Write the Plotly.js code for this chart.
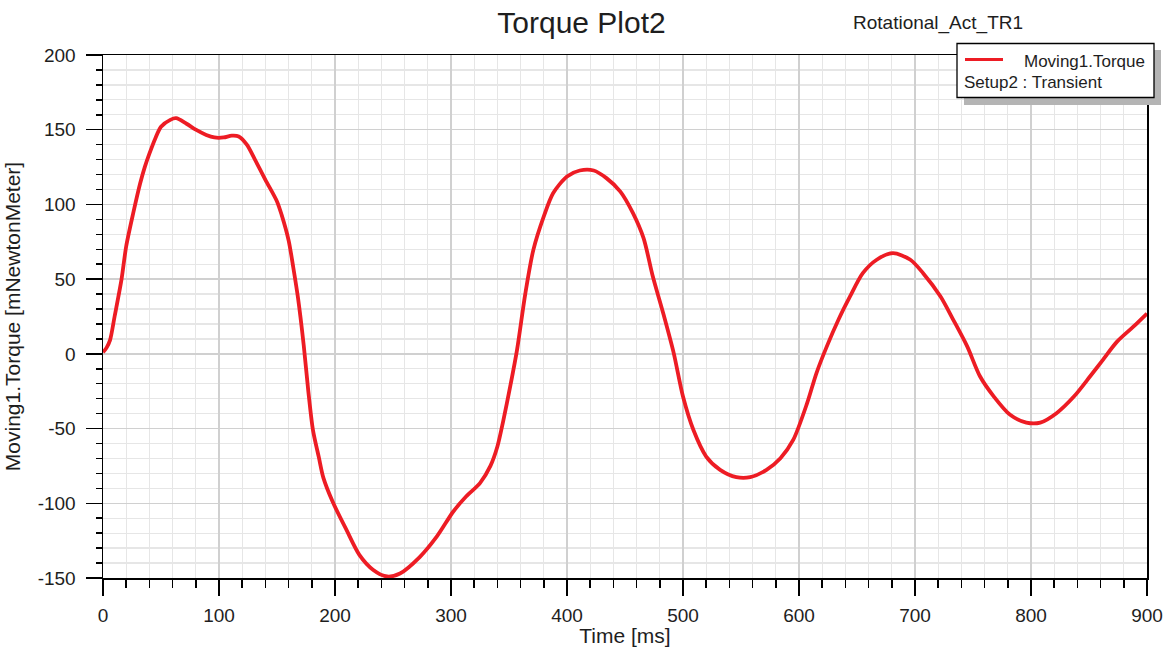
<!DOCTYPE html>
<html>
<head>
<meta charset="utf-8">
<script src="https://cdn.plot.ly/plotly-3.0.1.min.js"></script>
<style>
  html, body { margin: 0; padding: 0; background: #ffffff; }
  #chart { width: 1163px; height: 647px; }
</style>
</head>
<body>
<div id="chart"></div>
<script>
// Time [ms]
const timeMs = [0, 3, 6, 10, 16, 20, 26, 32, 36, 40, 45, 50, 58, 63, 72, 80, 89, 96, 104, 111,
  117, 124, 131, 140, 150, 154, 160, 164, 168, 173, 177, 181, 186, 190, 198, 210, 221, 233, 245, 256,
  273, 288, 302, 313, 325, 334, 340, 345, 351, 357, 364, 371, 380, 388, 400, 411, 423, 434, 446, 457,
  466, 474, 483, 492, 500, 509, 520, 532, 546, 558, 572, 584, 595, 607, 615, 624, 634, 644, 655, 667,
  681, 696, 707, 722, 733, 745, 756, 768, 782, 796, 808, 822, 837, 851, 862, 874, 888, 900];
// Moving1.Torque [mNewtonMeter]
const torque = [1, 4, 9, 25, 50, 72, 94, 114, 125, 134, 144, 152, 156.6, 157.7, 154, 150, 146.5, 144.8, 144.8, 146,
  145.5, 140, 130, 116.5, 102, 93, 76, 58, 38, 6, -25, -51, -69, -83, -99, -118, -134.5, -144.6, -149, -147,
  -136, -122, -105.5, -95.5, -86.5, -75, -62, -45, -22, 3, 40, 69.6, 92, 107.5, 118.7, 122.7, 122.7, 117.6, 108.6, 94,
  77.4, 51.7, 27, 0.5, -28.6, -51, -68.7, -77.6, -82.5, -82.5, -77.6, -69.8, -57.6, -33, -13, 5, 22.8, 38.4, 54, 63,
  67.4, 63, 54, 38.4, 22.8, 5, -15, -28.6, -40.8, -46, -46, -39.7, -28.6, -15, -4, 8, 18, 27];

const xTickVals = [0, 100, 200, 300, 400, 500, 600, 700, 800, 900];
const yTickVals = [-150, -100, -50, 0, 50, 100, 150, 200];

const chartTitle = "Torque Plot2";
const designName = "Rotational_Act_TR1";
const traceName = "Moving1.Torque";
const setupName = "Setup2 : Transient";
const xTitle = "Time [ms]";
const yTitle = "Moving1.Torque [mNewtonMeter]";

const lineColor = "rgb(237,28,36)";
const fontFam = "Liberation Sans, Arial, sans-serif";
const txt = "#1e1e1e";

const trace = {
  x: timeMs, y: torque, type: "scatter", mode: "lines", name: traceName,
  line: { color: lineColor, width: 3.8, shape: "spline", smoothing: 0.8 }, showlegend: false, hoverinfo: "x+y"
};

// plot-area pixel frame: left 103, right 1147, top 55, bottom 578
const L = 103, R = 1147, T = 55, B = 578;
const px = v => (v - L) / (R - L);
const py = v => (B - v) / (B - T);

const layout = {
  width: 1163, height: 647,
  margin: { l: L, r: 1163 - R, t: T, b: 647 - B },
  paper_bgcolor: "#ffffff", plot_bgcolor: "#ffffff",
  font: { family: fontFam, color: txt, size: 19 },
  title: { text: chartTitle, font: { size: 30, color: txt, family: fontFam },
           x: 0.5, xref: "container", xanchor: "center", y: 1 - 22 / 647, yref: "container", yanchor: "middle" },
  xaxis: {
    range: [0, 900], tickvals: xTickVals, ticktext: xTickVals.map(String),
    ticks: "outside", ticklen: 16, tickwidth: 1.5, tickcolor: "#000",
    showline: true, linecolor: "#000", linewidth: 1.5, mirror: true,
    showgrid: true, gridcolor: "#d0d0d0", gridwidth: 1.3, zeroline: false,
    minor: { dtick: 20, tick0: 0, ticks: "outside", ticklen: 8, tickwidth: 1.5, tickcolor: "#000",
             showgrid: true, gridcolor: "#e6e6e6", gridwidth: 1.3 },
    tickfont: { size: 19, color: txt }, ticklabelstandoff: 4,
    title: { text: xTitle, font: { size: 21, color: txt }, standoff: 4 },
    automargin: false, fixedrange: true
  },
  yaxis: {
    range: [-150, 200], tickvals: yTickVals, ticktext: yTickVals.map(String),
    ticks: "outside", ticklen: 16, tickwidth: 1.5, tickcolor: "#000",
    showline: true, linecolor: "#000", linewidth: 1.5, mirror: true,
    showgrid: true, gridcolor: "#d0d0d0", gridwidth: 1.3, zeroline: false,
    minor: { dtick: 10, tick0: 0, ticks: "outside", ticklen: 6, tickwidth: 1.5, tickcolor: "#000",
             showgrid: true, gridcolor: "#e6e6e6", gridwidth: 1.3 },
    tickfont: { size: 19, color: txt }, ticklabelstandoff: 6,
    title: { text: yTitle, font: { size: 21, color: txt }, standoff: 11 },
    automargin: false, fixedrange: true
  },
  shapes: [
    { type: "rect", xref: "paper", yref: "paper", layer: "above",
      x0: px(964), x1: px(1161), y0: py(105), y1: py(50),
      fillcolor: "#b4b4b4", line: { width: 0 } },
    { type: "rect", xref: "paper", yref: "paper", layer: "above",
      x0: px(957), x1: px(1154), y0: py(97.5), y1: py(43.5),
      fillcolor: "#ffffff", line: { color: "#000", width: 1.3 } },
    { type: "line", xref: "paper", yref: "paper", layer: "above",
      x0: px(965), x1: px(1003), y0: py(59.5), y1: py(59.5),
      line: { color: lineColor, width: 3 } }
  ],
  annotations: [
    { text: designName, xref: "paper", yref: "paper", x: px(851), y: py(23),
      xanchor: "left", yanchor: "middle", showarrow: false, font: { size: 19, color: txt } },
    { text: traceName, xref: "paper", yref: "paper", x: px(1147), y: py(61.5),
      xanchor: "right", yanchor: "middle", showarrow: false, font: { size: 17, color: txt } },
    { text: setupName, xref: "paper", yref: "paper", x: px(962), y: py(83),
      xanchor: "left", yanchor: "middle", showarrow: false, font: { size: 17, color: txt } }
  ],
  showlegend: false
};

Plotly.newPlot("chart", [trace], layout, { displayModeBar: false, staticPlot: true });
</script>
</body>
</html>
